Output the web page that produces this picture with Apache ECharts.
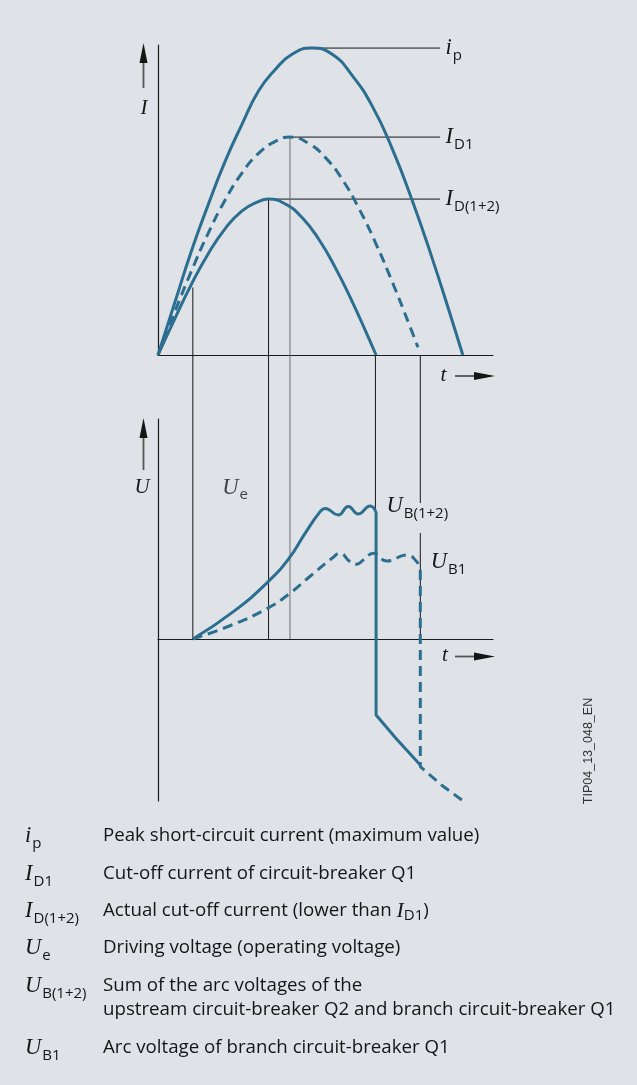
<!DOCTYPE html>
<html>
<head>
<meta charset="utf-8">
<script src="https://cdn.jsdelivr.net/npm/echarts@6/dist/echarts.min.js"></script>
<style>
html,body{margin:0;padding:0;background:#dfe3e8;}
#chart{width:637px;height:1085px;}
</style>
</head>
<body>
<div id="chart"></div>
<script>
// t in relative time units, I and U in relative units
var ipCurve   = [[0,0],[0.5,17],[1,34],[1.5,49],[2,63],[2.5,75],[3,86],[3.5,93],[4,98],[4.59,100],[5.2,98],[5.8,91],[6.4,81],[7,67],[7.6,50],[8.2,31],[8.7,14],[9.1,0]];
var id1Curve  = [[0,0],[0.5,14],[1,27.4],[1.5,39.7],[2,50.4],[2.5,59.2],[3,65.7],[3.5,69.6],[3.94,71],[4.5,68.9],[5,64.3],[5.5,57.2],[6,47.7],[6.5,36.4],[7,23.6],[7.5,9.9],[7.76,2.5]];
var id12Curve = [[0,0],[0.5,11.8],[1,23.1],[1.5,33],[2,41.1],[2.5,46.9],[3,50],[3.3,50.8],[3.8,49.2],[4.3,44.8],[4.8,37.7],[5.3,28.3],[5.8,17.3],[6.2,7.7],[6.51,0]];

var peakT = [4.59, 3.94, 3.3];
var peakI = [100, 71, 50.8];
var peakNames = [['i','p'], ['I','D1'], ['I','D(1+2)']];
var labelT = 8.42;

// guide lines: [t, from, to]
var guidesTop = [[1.04,22,0],[3.3,50.8,0],[3.94,71,0]];
var guidesBottom = [[1.04,142,0],[3.3,142,0],[3.94,142,0],[6.49,142,64],[7.83,142,68],[7.83,53,0]];

var ub12Rise = [[1.04,0],[2.25,13.7],[3.29,28.7],[3.91,40.3],[4.39,52.8],[4.84,63.7],[4.99,65.3],[5.38,62],[5.68,66.2],[5.98,62.5],[6.33,66.5],[6.51,63.5]];
var ub12Drop = [[6.51,63.5],[6.51,-38],[7.12,-50],[7.83,-63]];
var ub1Rise  = [[1.04,0],[2.2,7],[3.29,15.5],[3.91,22.5],[4.55,31.5],[5.19,40.3],[5.43,42.9],[5.73,38.7],[5.93,37.4],[6.13,39.5],[6.43,42.9],[6.83,39],[7.42,42],[7.72,38.7],[7.83,34.5]];
var ub1Drop  = [[7.83,34.5],[7.83,-63.8],[8.5,-73.5],[9.19,-82]];
var uePos = [1.9, 75.7];

var legendSym = [['i','p'],['I','D1'],['I','D(1+2)'],['U','e'],['U','B(1+2)'],['U','B1']];
var legendText = [
  'Peak short-circuit current (maximum value)',
  'Cut-off current of circuit-breaker Q1',
  'Actual cut-off current (lower than {mi|I}{si|D1})',
  'Driving voltage (operating voltage)',
  'Sum of the arc voltages of the\nupstream circuit-breaker Q2 and branch circuit-breaker Q1',
  'Arc voltage of branch circuit-breaker Q1'
];
var legendY = [836, 874, 911, 948, 986, 1048];

var C = '#2c6e8f';
var ink = '#151515';
var serif = '"Liberation Serif", "DejaVu Serif", serif';
var sans = '"Open Sans", "Noto Sans", sans-serif';

var symRich = {
  m: {fontFamily: serif, fontStyle: 'italic', fontSize: 22.5, lineHeight: 30, color: ink, fill: ink},
  s: {fontFamily: sans, fontSize: 15, lineHeight: 15, verticalAlign: 'bottom', color: ink, fill: ink, padding: [0,0,0,1]}
};
function sym(a, b) { return '{m|' + a + '}{s|' + b + '}'; }

function curve(data, grid, dashed, smooth) {
  return {
    type: 'line', xAxisIndex: grid, yAxisIndex: grid, data: data,
    symbol: 'none', smooth: smooth, clip: false, silent: true, z: 3,
    lineStyle: {color: C, width: 3, type: dashed ? [10, 6] : 'solid'}
  };
}
function thin(data, grid, color) {
  return {
    type: 'line', xAxisIndex: grid, yAxisIndex: grid, data: data,
    symbol: 'none', clip: false, silent: true, z: 2,
    lineStyle: {color: color || ink, width: 1}
  };
}
function tagged(pt, text, dist, dy) {
  return {
    value: pt, symbol: 'circle', symbolSize: 1, itemStyle: {color: 'rgba(0,0,0,0)'},
    label: {show: true, position: 'right', distance: dist, offset: [0, dy], formatter: text, rich: symRich}
  };
}

var series = [];
series.push(curve(ipCurve, 0, false, 0.5));
series.push(curve(id1Curve, 0, true, 0.5));
series.push(curve(id12Curve, 0, false, 0.5));

peakT.forEach(function (t, i) {
  series.push(thin([[t, peakI[i]], tagged([labelT, peakI[i]], sym(peakNames[i][0], peakNames[i][1]), 5, 0)], 0));
});
guidesTop.forEach(function (g) {
  series.push(thin([[g[0], g[1]], [g[0], g[2]]], 0, g[0] === 3.94 ? '#6e6e6e' : ink));
});
guidesBottom.forEach(function (g) {
  series.push(thin([[g[0], g[1]], [g[0], g[2]]], 1, g[0] === 3.94 ? '#6e6e6e' : ink));
});

var r12 = ub12Rise.slice(0, -1);
r12.push(tagged(ub12Rise[ub12Rise.length - 1], sym('U', 'B(1+2)'), 10, -6));
series.push(curve(r12, 1, false, 0.5));
series.push(curve(ub12Drop, 1, false, false));
var r1 = ub1Rise.slice(0, -1);
r1.push(tagged(ub1Rise[ub1Rise.length - 1], sym('U', 'B1'), 10, -8));
series.push(curve(r1, 1, true, 0.5));
series.push(curve(ub1Drop, 1, true, false));

series.push({
  type: 'scatter', xAxisIndex: 1, yAxisIndex: 1, silent: true,
  data: [tagged(uePos, sym('U', 'e'), 0, 0)]
});

function axisCfg(grid, min, max) {
  return {
    gridIndex: grid, type: 'value', min: min, max: max,
    axisLine: {show: true, lineStyle: {color: '#1a1a1a', width: 1.2}},
    axisTick: {show: false}, axisLabel: {show: false}, splitLine: {show: false}
  };
}

// decorations: axis arrows, axis letters, legend
var gLeft = 158, gRight = 493;
var graphics = [];
function arrowUp(x, tip, end) {
  graphics.push({type: 'line', shape: {x1: x, y1: tip + 18, x2: x, y2: end}, style: {stroke: '#555', lineWidth: 1.8}});
  graphics.push({type: 'polygon', shape: {points: [[x, tip], [x - 4, tip + 20], [x + 4, tip + 20]]}, style: {fill: ink}});
}
function arrowRight(y, x0, tip) {
  graphics.push({type: 'line', shape: {x1: x0, y1: y, x2: tip - 18, y2: y}, style: {stroke: '#555', lineWidth: 1.8}});
  graphics.push({type: 'polygon', shape: {points: [[tip, y], [tip - 21, y - 4], [tip - 21, y + 4]]}, style: {fill: ink}});
}
function letter(x, y, t) {
  graphics.push({type: 'text', x: x, y: y, style: {text: t, fontFamily: serif, fontStyle: 'italic', fontSize: 21, fill: ink, align: 'center', verticalAlign: 'middle'}});
}
arrowUp(gLeft - 14.5, 43, 88);
letter(gLeft - 14, 108, 'I');
arrowUp(gLeft - 14.5, 418, 470);
letter(gLeft - 16, 487, 'U');
arrowRight(376, gLeft + 297, gRight + 2);
letter(gLeft + 285.5, 375, 't');
arrowRight(656.5, gLeft + 297, gRight + 2);
letter(gLeft + 287, 655, 't');

graphics.push({
  type: 'text', x: 589, y: 751, rotation: Math.PI / 2,
  style: {text: 'TIP04_13_048_EN', fontFamily: '"Liberation Sans", Arial, sans-serif', fontSize: 12.5, fill: '#333', align: 'center', verticalAlign: 'middle'}
});

legendSym.forEach(function (s, i) {
  graphics.push({
    type: 'text', x: 25, y: legendY[i],
    style: {text: sym(s[0], s[1]), rich: symRich, align: 'left', verticalAlign: 'middle'}
  });
  graphics.push({
    type: 'text', x: 103, y: legendY[i] - 12,
    style: {
      text: legendText[i], fontFamily: sans, fontSize: 18.7, lineHeight: 24, fill: ink, align: 'left', verticalAlign: 'top',
      rich: {
        mi: {fontFamily: serif, fontStyle: 'italic', fontSize: 22, lineHeight: 24, fill: ink, color: ink},
        si: {fontFamily: sans, fontSize: 15, lineHeight: 15, verticalAlign: 'bottom', fill: ink, color: ink}
      }
    }
  });
});

var chart = echarts.init(document.getElementById('chart'), null, {renderer: 'canvas'});
chart.setOption({
  backgroundColor: '#dfe3e8',
  animation: false,
  grid: [
    {left: gLeft, top: 45, width: gRight - gLeft, height: 310},
    {left: gLeft, top: 419, width: gRight - gLeft, height: 382}
  ],
  xAxis: [axisCfg(0, 0, 10), axisCfg(1, 0, 10)],
  yAxis: [axisCfg(0, 0, 101), axisCfg(1, -81, 110)],
  series: series,
  graphic: graphics
});
</script>
</body>
</html>
